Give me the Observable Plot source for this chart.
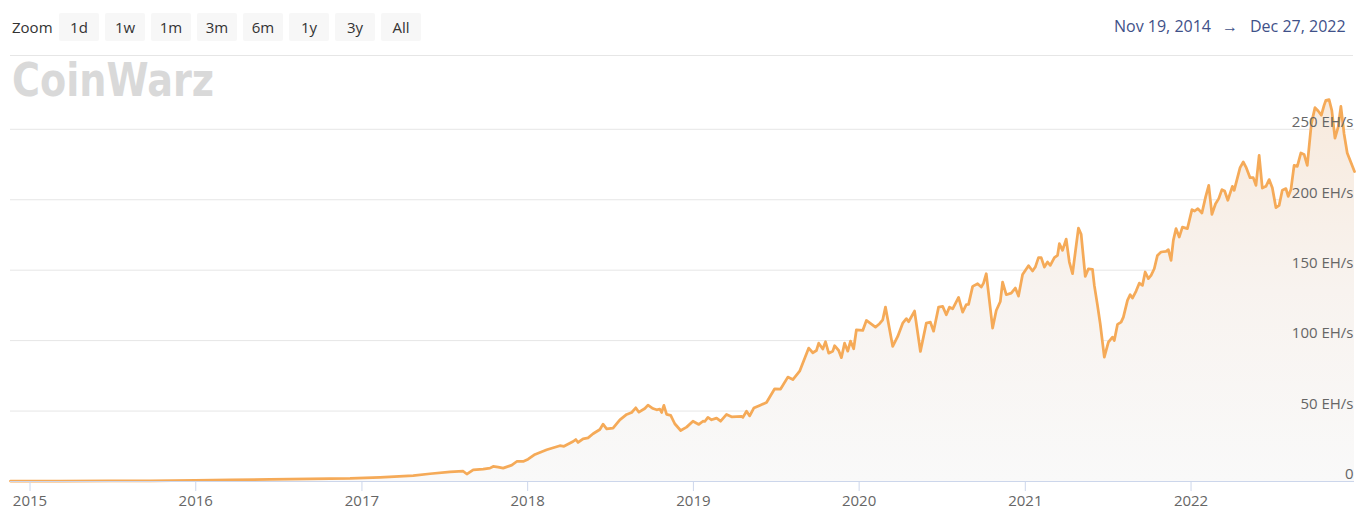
<!DOCTYPE html>
<html><head><meta charset="utf-8">
<script src="https://cdn.jsdelivr.net/npm/d3@7"></script>
<script src="https://cdn.jsdelivr.net/npm/@observablehq/plot@0.6"></script>
<style>
html,body{margin:0;padding:0;background:#fff;}
body{width:1365px;height:522px;overflow:hidden;position:relative;font-family:"Open Sans",sans-serif;}
#hdr{position:relative;height:57px;}
.zl{position:absolute;left:12px;top:13px;font-size:15px;color:#333;line-height:28px;}
.btn{position:absolute;top:13px;width:40px;height:28px;background:#f7f7f7;border-radius:2px;font-size:15px;color:#333;text-align:center;line-height:28px;}
.rng{position:absolute;top:12px;font-size:16px;color:#3f5189;line-height:28px;white-space:nowrap;}
#sep{position:absolute;left:10px;top:55px;width:1343px;height:1px;background:#e6e6e6;}
#logo{position:absolute;left:12px;top:57px;font:bold 46px "DejaVu Sans";color:#d9d9d9;line-height:46px;transform-origin:0 0;transform:scaleX(0.83);z-index:2;white-space:nowrap;}
#chart{position:relative;height:465px;}
</style>
</head>
<body>
<div id="hdr"></div>
<div id="logo">CoinWarz</div>
<div id="chart"></div>
<script>
const zoomLabel = "Zoom";
const zoomButtons = ["1d", "1w", "1m", "3m", "6m", "1y", "3y", "All"];
const rangeStart = "Nov 19, 2014";
const rangeEnd = "Dec 27, 2022";
const domainStart = "2014-11-19";
const domainEnd = "2022-12-27";

const dates = [
"2014-11-19","2015-03-09","2015-06-27","2015-09-23","2015-12-31","2016-03-17","2016-06-13","2016-09-09","2016-12-06",
"2017-02-10","2017-04-24","2017-05-31","2017-07-14","2017-08-12","2017-08-20","2017-09-03","2017-09-25","2017-10-10",
"2017-10-17","2017-10-28","2017-11-08","2017-11-27","2017-12-08","2017-12-22","2018-01-02","2018-01-17","2018-02-12",
"2018-03-13","2018-03-22","2018-04-11","2018-04-17","2018-04-22","2018-05-03","2018-05-14","2018-05-25","2018-06-09",
"2018-06-16","2018-06-24","2018-07-08","2018-07-23","2018-08-07","2018-08-18","2018-08-27","2018-09-03","2018-09-16",
"2018-09-23","2018-10-04","2018-10-12","2018-10-19","2018-10-23","2018-10-28","2018-11-03","2018-11-12","2018-11-21",
"2018-12-04","2018-12-17","2018-12-31","2019-01-13","2019-01-22","2019-01-26","2019-02-02","2019-02-10","2019-02-21",
"2019-03-02","2019-03-15","2019-03-26","2019-04-17","2019-04-20","2019-04-28","2019-05-05","2019-05-14","2019-05-27",
"2019-06-11","2019-06-29","2019-07-12","2019-07-28","2019-08-08","2019-08-23","2019-09-12","2019-09-21","2019-09-29",
"2019-10-04","2019-10-13","2019-10-19","2019-10-26","2019-11-04","2019-11-08","2019-11-17","2019-11-23","2019-11-30",
"2019-12-07","2019-12-13","2019-12-20","2019-12-26","2020-01-09","2020-01-17","2020-02-06","2020-02-15","2020-02-22",
"2020-02-28","2020-03-15","2020-03-26","2020-04-06","2020-04-14","2020-04-19","2020-05-02","2020-05-15","2020-05-28",
"2020-06-06","2020-06-13","2020-06-24","2020-07-03","2020-07-11","2020-07-18","2020-07-25","2020-08-07","2020-08-16",
"2020-08-24","2020-08-29","2020-09-07","2020-09-18","2020-09-26","2020-10-01","2020-10-07","2020-10-21","2020-10-29",
"2020-11-07","2020-11-12","2020-11-20","2020-12-01","2020-12-10","2020-12-17","2020-12-26","2021-01-08","2021-01-17",
"2021-01-23","2021-01-30","2021-02-05","2021-02-12","2021-02-19","2021-02-25","2021-03-06","2021-03-13","2021-03-17",
"2021-03-24","2021-04-01","2021-04-08","2021-04-15","2021-04-28","2021-05-04","2021-05-13","2021-05-20","2021-05-29",
"2021-06-02","2021-06-09","2021-06-15","2021-06-24","2021-07-03","2021-07-12","2021-07-16","2021-07-23","2021-07-31",
"2021-08-05","2021-08-14","2021-08-20","2021-08-25","2021-09-02","2021-09-09","2021-09-16","2021-09-22","2021-09-29",
"2021-10-05","2021-10-12","2021-10-19","2021-10-27","2021-11-07","2021-11-12","2021-11-18","2021-11-23","2021-11-29",
"2021-12-06","2021-12-13","2021-12-24","2022-01-03","2022-01-09","2022-01-16","2022-01-25","2022-02-02","2022-02-09",
"2022-02-16","2022-02-24","2022-03-03","2022-03-10","2022-03-16","2022-03-23","2022-04-02","2022-04-06","2022-04-19",
"2022-04-26","2022-05-02","2022-05-11","2022-05-18","2022-05-24","2022-05-31","2022-06-07","2022-06-15","2022-06-22",
"2022-06-29","2022-07-07","2022-07-14","2022-07-21","2022-07-29","2022-08-03","2022-08-09","2022-08-16","2022-08-23",
"2022-08-31","2022-09-07","2022-09-14","2022-09-23","2022-10-01","2022-10-08","2022-10-15","2022-10-21","2022-10-25",
"2022-11-01","2022-11-07","2022-11-14","2022-11-21","2022-11-27","2022-12-04","2022-12-11","2022-12-27"
];
const hashrate = [
0.3,0.35,0.4,0.5,0.8,1.2,1.5,1.8,2.2,
3.0,4.2,5.5,6.8,7.3,5.3,8.3,8.8,9.5,
10.7,10.2,9.5,11.6,14.2,14.2,15.8,19.2,22.5,
25.4,25.0,28.4,29.8,27.7,30.3,31.0,33.9,36.9,
40.7,37.4,37.9,43.8,47.6,49.0,52.3,49.2,51.8,
54.2,51.8,50.9,51.4,49.0,54.0,47.6,46.9,41.0,
36.2,38.6,42.8,40.5,42.8,42.6,45.5,43.8,45.0,
42.8,47.6,45.9,46.2,45.5,49.9,46.6,52.1,54.0,
56.1,65.8,65.6,74.1,72.4,78.3,94.7,91.4,93.0,
98.2,94.0,99.2,91.1,92.5,96.4,93.0,87.9,98.2,
92.5,99.7,94.2,107.7,107.2,114.3,109.6,112.0,114.8,
123.8,95.9,103.0,112.4,115.6,113.4,121.0,92.3,112.4,
113.1,106.7,123.8,124.3,118.4,123.8,122.6,130.7,120.2,
125.5,125.7,138.5,140.4,138.0,140.8,147.5,108.9,121.4,
127.8,141.6,132.6,133.7,137.3,131.6,147.0,153.2,149.4,
152.2,158.9,158.9,152.2,155.8,153.4,158.9,160.5,168.8,
164.1,172.1,155.8,147.5,179.9,175.4,145.6,151.0,150.6,
139.2,125.0,112.0,88.3,98.9,102.5,100.1,111.5,113.1,
116.7,128.6,132.6,130.2,135.2,140.8,139.2,148.7,144.0,
146.3,151.0,160.5,162.9,163.4,164.6,157.0,171.2,179.5,
173.5,180.6,179.5,193.0,192.0,193.7,190.6,201.9,210.2,
189.6,197.2,200.8,207.2,206.2,199.6,209.5,206.7,222.8,
226.8,223.2,215.7,215.7,210.2,231.5,208.3,209.5,214.3,
208.6,194.4,196.0,206.7,207.9,202.4,207.2,224.4,223.7,
233.2,232.2,224.4,254.0,265.4,263.0,260.0,267.0,270.6,
271.1,263.5,243.8,251.6,266.3,246.9,233.2,220.0
];
const yTicks = [0, 50, 100, 150, 200, 250];
const yTickLabels = ["0", "50 EH/s", "100 EH/s", "150 EH/s", "200 EH/s", "250 EH/s"];
const xTickYears = ["2015", "2016", "2017", "2018", "2019", "2020", "2021", "2022"];
const yMax = 274;

// header
const hdr = document.getElementById("hdr");
const zl = document.createElement("div"); zl.className = "zl"; zl.textContent = zoomLabel; hdr.appendChild(zl);
zoomButtons.forEach((b, i) => {
  const el = document.createElement("div");
  el.className = "btn"; el.textContent = b;
  el.style.left = (59 + i * 46) + "px";
  hdr.appendChild(el);
});
[[rangeStart, 1114], ["\u2192", 1222], [rangeEnd, 1250]].forEach(([t, l]) => {
  const el = document.createElement("div"); el.className = "rng"; el.textContent = t; el.style.left = l + "px"; hdr.appendChild(el);
});
const sep = document.createElement("div"); sep.id = "sep"; hdr.appendChild(sep);

const data = dates.map((d, i) => ({date: new Date(d + "T00:00:00Z"), value: hashrate[i]}));
const xTicks = xTickYears.map(y => new Date(y + "-01-01T00:00:00Z"));

const chart = Plot.plot({
  width: 1365,
  height: 465,
  marginLeft: 10,
  marginRight: 11,
  marginTop: 38,
  marginBottom: 41,
  style: {fontFamily: "'Open Sans', sans-serif", fontSize: "15px", color: "#666", background: "white", overflow: "visible"},
  x: {type: "utc", domain: [new Date(domainStart + "T00:00:00Z"), new Date(domainEnd + "T00:00:00Z")], axis: null},
  y: {domain: [0, yMax], axis: null},
  marks: [
    Plot.ruleY(yTicks.filter(t => t > 0), {stroke: "#e6e6e6", strokeWidth: 1}),
    Plot.areaY(data, {x: "date", y: "value", fill: "url(#hrGrad)", curve: "linear"}),
    Plot.lineY(data, {x: "date", y: "value", stroke: "#f5aa58", strokeWidth: 2.75, curve: "linear", strokeLinejoin: "round"}),
    Plot.ruleY([0], {stroke: "#ccd6eb", strokeWidth: 1}),
    Plot.axisX({ticks: xTicks, tickFormat: d => String(d.getUTCFullYear()), tickSize: 10, tickPadding: 4, stroke: "#ccd6eb", fill: "#666", label: null}),
    Plot.text(yTicks, {y: d => d, text: (d, i) => yTickLabels[i], frameAnchor: "right", textAnchor: "end", lineAnchor: "middle", dx: -1, dy: -7, fill: "#666", fontSize: 15})
  ]
});
const svgNS = "http://www.w3.org/2000/svg";
const defs = document.createElementNS(svgNS, "defs");
defs.innerHTML = '<linearGradient id="hrGrad" x1="0" y1="0" x2="0" y2="1"><stop offset="0" stop-color="#f8eadd"/><stop offset="0.5" stop-color="#f8f3ef"/><stop offset="1" stop-color="#f9f9f9"/></linearGradient>';
chart.insertBefore(defs, chart.firstChild);
document.getElementById("chart").appendChild(chart);
</script>
</body></html>
